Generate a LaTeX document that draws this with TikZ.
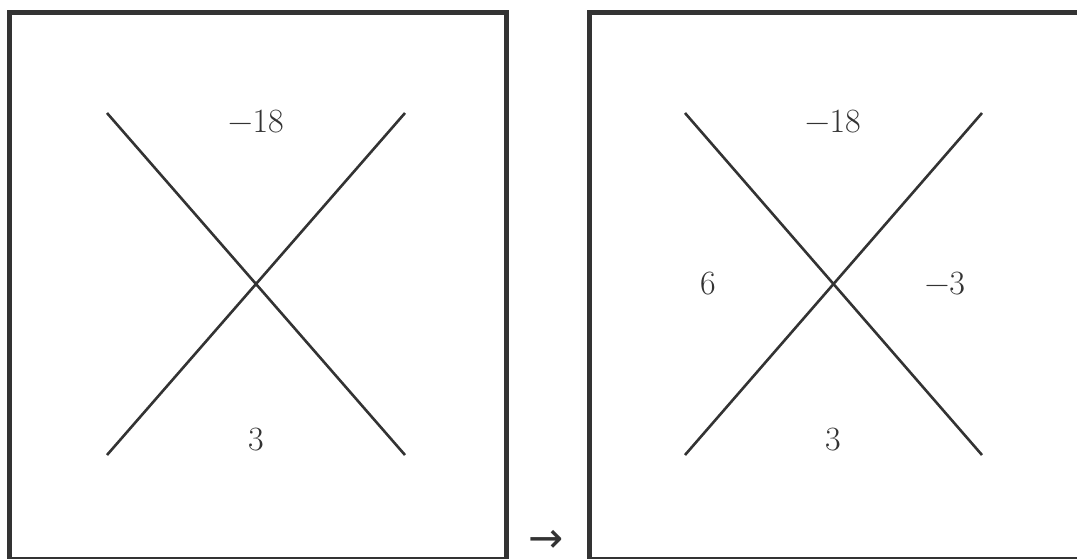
\documentclass[tikz,border=0pt]{standalone}
\usepackage{fontspec}
\newfontfamily\arrowfont{DejaVu Sans}
\definecolor{ink}{HTML}{333333}
\tikzset{
  frame/.style={draw=ink, line width=5pt},
  cross/.style={draw=ink, line width=2.6pt},
  num/.style={text=ink, inner sep=0pt, font=\fontsize{34}{40}\selectfont},
  arrowsym/.style={text=ink, inner sep=0pt, text depth=0pt, text height=0.5em, font=\fontsize{42}{46}\arrowfont},
}
\begin{document}
\begin{tikzpicture}[x=1pt,y=-1pt]
\useasboundingbox (0,0) rectangle (1077,558);
\clip (0,0) rectangle (1077,558);
% left panel
\node[frame, minimum width=497.5pt, minimum height=547pt, inner sep=0pt, anchor=north west] (L) at (6.5,9.5) {};
\coordinate (la) at (107,113);
\coordinate (lb) at (405,455);
\coordinate (lc) at (405,113);
\coordinate (ld) at (107,455);
\draw[cross] (la) -- (lb);
\draw[cross] (lc) -- (ld);
\node[num] (lt) at (256,122) {−18};
\node[num] (lbot) at (256,440) {3};
% arrow
\node[arrowsym, anchor=base] (arr) at (546,552) {→};
% right panel
\node[frame, minimum width=497.5pt, minimum height=547pt, inner sep=0pt, anchor=north west] (R) at (586.5,9.5) {};
\coordinate (ra) at (685,113);
\coordinate (rb) at (982,455);
\coordinate (rc) at (982,113);
\coordinate (rd) at (685,455);
\draw[cross] (ra) -- (rb);
\draw[cross] (rc) -- (rd);
\node[num] (rt) at (833,122) {−18};
\node[num] (rbot) at (833,440) {3};
\node[num] (rl) at (708,284) {6};
\node[num] (rr) at (945,284) {−3};
\end{tikzpicture}
\end{document}
